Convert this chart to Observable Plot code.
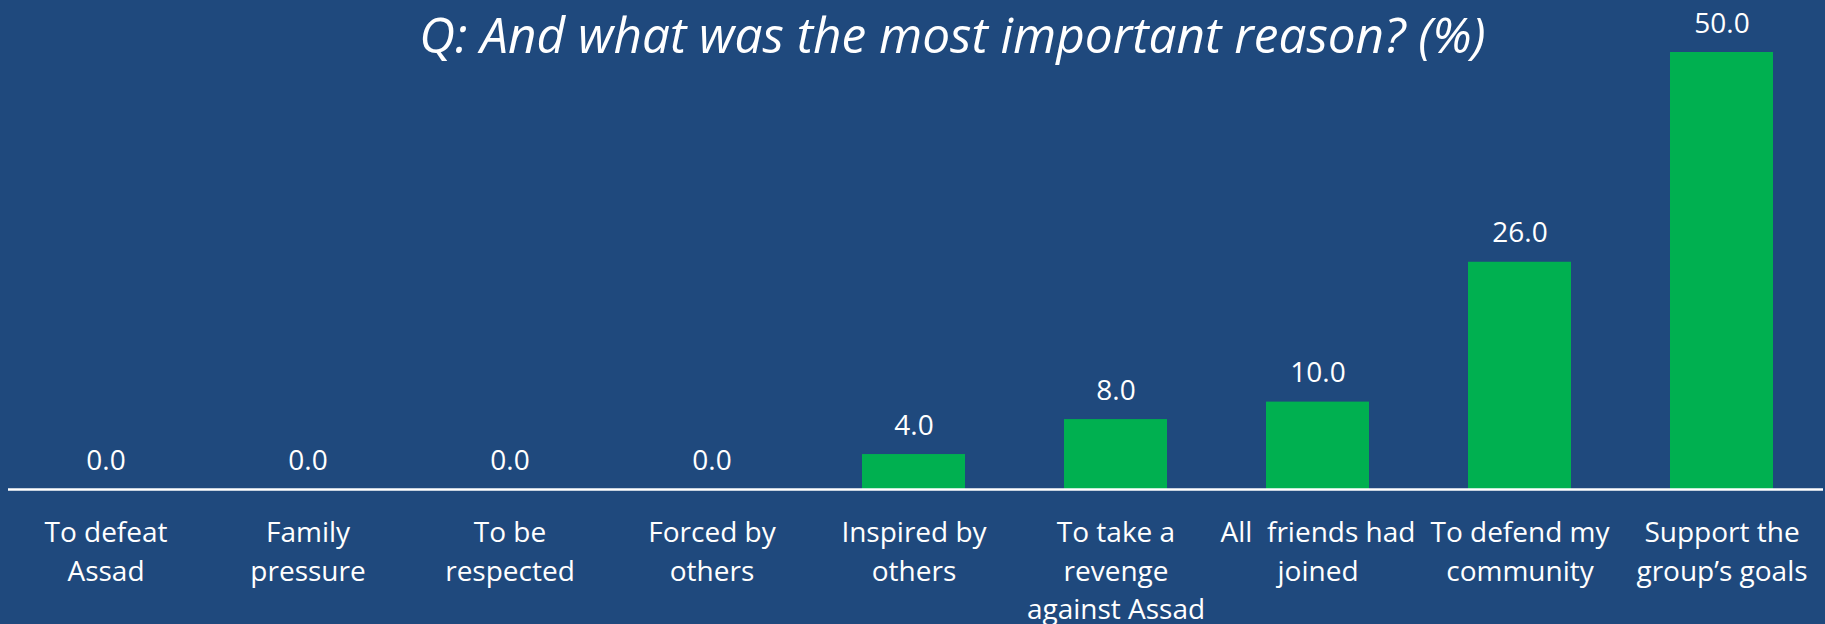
<!DOCTYPE html>
<html>
<head>
<meta charset="utf-8">
<script src="https://cdn.jsdelivr.net/npm/d3@7"></script>
<script src="https://cdn.jsdelivr.net/npm/@observablehq/plot@0.6"></script>
<style>
  html, body { margin: 0; padding: 0; background: #1F497D; }
  #chart { width: 1825px; height: 624px; overflow: hidden; }
</style>
</head>
<body>
<div id="chart"></div>
<script>
const titleText = "Q: And what was the most important reason? (%)";
const categories = [
  "To defeat\nAssad",
  "Family\npressure",
  "To be\nrespected",
  "Forced by\nothers",
  "Inspired by\nothers",
  "To take a\nrevenge\nagainst Assad",
  "All\u00a0 friends had\njoined",
  "To defend my\ncommunity",
  "Support the\ngroup\u2019s goals"
];
const values = [0, 0, 0, 0, 4, 8, 10, 26, 50];

const data = categories.map((c, i) => ({category: c, value: values[i]}));

const chart = Plot.plot({
  width: 1825,
  height: 624,
  marginLeft: 5,
  marginRight: 2,
  marginTop: 52,
  marginBottom: 135,
  style: {background: "#1F497D", color: "white", fontFamily: "'Open Sans', sans-serif"},
  x: {domain: categories, paddingInner: 0.49, paddingOuter: 0.245},
  y: {domain: [0, 50], axis: null},
  marks: [
    Plot.barY(data, {x: "category", y: "value", fill: "#00B050"}),
    Plot.ruleY([0], {stroke: "white", strokeWidth: 2.5, insetLeft: 3}),
    Plot.text(data, {
      x: "category", y: "value",
      text: d => d.value.toFixed(1),
      lineAnchor: "bottom", dy: -20,
      fill: "white", fontSize: 28
    }),
    Plot.axisX({
      tickSize: 0, tickPadding: 25, fontSize: 28, lineHeight: 1.38,
      label: null, color: "white", fill: "white"
    }),
    Plot.text([titleText], {
      text: d => d, frameAnchor: "top", dx: 38, dy: 0,
      lineAnchor: "bottom", fill: "white", fontSize: 49.5, fontStyle: "italic"
    })
  ]
});
document.getElementById("chart").appendChild(chart);
</script>
</body>
</html>
